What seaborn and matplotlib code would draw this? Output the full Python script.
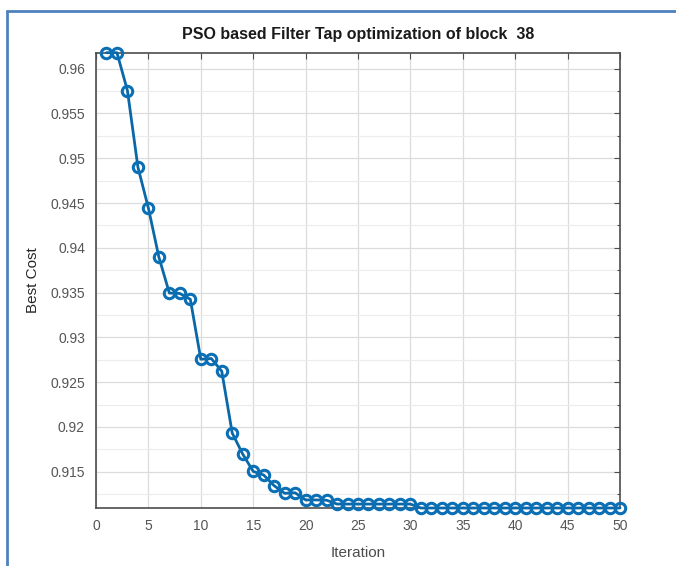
import matplotlib
matplotlib.use("Agg")
import matplotlib.pyplot as plt
from matplotlib.ticker import MultipleLocator
from matplotlib.lines import Line2D
import seaborn as sns
import pandas as pd

iterations = list(range(1, 51))
best_cost = [
    0.96178, 0.96178, 0.95755, 0.94900, 0.94443, 0.93896, 0.93495, 0.93490, 0.93425, 0.92756,
    0.92764, 0.92622, 0.91931, 0.91697, 0.91504, 0.91463, 0.91344, 0.91259, 0.91265, 0.91185,
    0.91185, 0.91182, 0.91139, 0.91139, 0.91139, 0.91139, 0.91139, 0.91139, 0.91139, 0.91139,
    0.91095, 0.91095, 0.91095, 0.91095, 0.91095, 0.91095, 0.91095, 0.91095, 0.91095, 0.91095,
    0.91095, 0.91095, 0.91095, 0.91095, 0.91095, 0.91095, 0.91095, 0.91095, 0.91095, 0.91095,
]
x_ticks = [0, 5, 10, 15, 20, 25, 30, 35, 40, 45, 50]
y_ticks = [0.915, 0.92, 0.925, 0.93, 0.935, 0.94, 0.945, 0.95, 0.955, 0.96]
y_tick_labels = ["0.915", "0.92", "0.925", "0.93", "0.935", "0.94", "0.945", "0.95", "0.955", "0.96"]
title = "PSO based Filter Tap optimization of block  38"

df = pd.DataFrame({"Iteration": iterations, "Best Cost": best_cost})

sns.set_theme(style="white")
plt.rcParams["font.family"] = ["Liberation Sans", "DejaVu Sans"]

fig = plt.figure(figsize=(6.76, 5.66), dpi=100)
ax = fig.add_axes([96/676, 1-508/566, (620-96)/676, (508-52.7)/566])

sns.lineplot(data=df, x="Iteration", y="Best Cost", ax=ax, color="#0a68a8",
             linewidth=2.0, marker="o", markersize=7.5, markerfacecolor="none",
             markeredgecolor="#0a6fb5", markeredgewidth=2.2, clip_on=False, zorder=5)

ax.set_xlim(0, 50)
ax.set_ylim(min(best_cost), max(best_cost))
ax.set_xticks(x_ticks)
ax.set_xticklabels([str(t) for t in x_ticks])
ax.set_yticks(y_ticks)
ax.set_yticklabels(y_tick_labels)
ax.yaxis.set_minor_locator(MultipleLocator(0.0025))

ax.grid(True, which="major", color="#dcdcdc", linewidth=0.9)
ax.grid(True, which="minor", axis="y", color="#ececec", linewidth=0.8)
ax.set_axisbelow(True)

for s in ax.spines.values():
    s.set_color("#4d4d4d")
    s.set_linewidth(1.2)

ax.tick_params(axis="both", which="both", direction="in", top=True, right=True,
               labelsize=10, labelcolor="#555555", color="#4d4d4d")
ax.tick_params(which="major", length=4, width=0.8)
ax.tick_params(which="minor", length=2.5, width=0.8)
ax.tick_params(axis="x", pad=8)
ax.tick_params(axis="y", pad=8)

ax.set_xlabel("Iteration", fontsize=11, color="#4d4d4d", labelpad=9)
ax.set_ylabel("Best Cost", fontsize=11, color="#262626", labelpad=7)
ax.set_title(title, fontsize=11.5, fontweight="bold", color="#1a1a1a", pad=10)

# blue frame lines (top and left) of the reference screenshot
fig.add_artist(Line2D([7/676, 1], [1-10.5/566, 1-10.5/566], transform=fig.transFigure,
                      color="#4f81bd", linewidth=2))
fig.add_artist(Line2D([7/676, 7/676], [0, 1-10.5/566], transform=fig.transFigure,
                      color="#4f81bd", linewidth=2))

fig.savefig("out.png", dpi=100, facecolor="white")
